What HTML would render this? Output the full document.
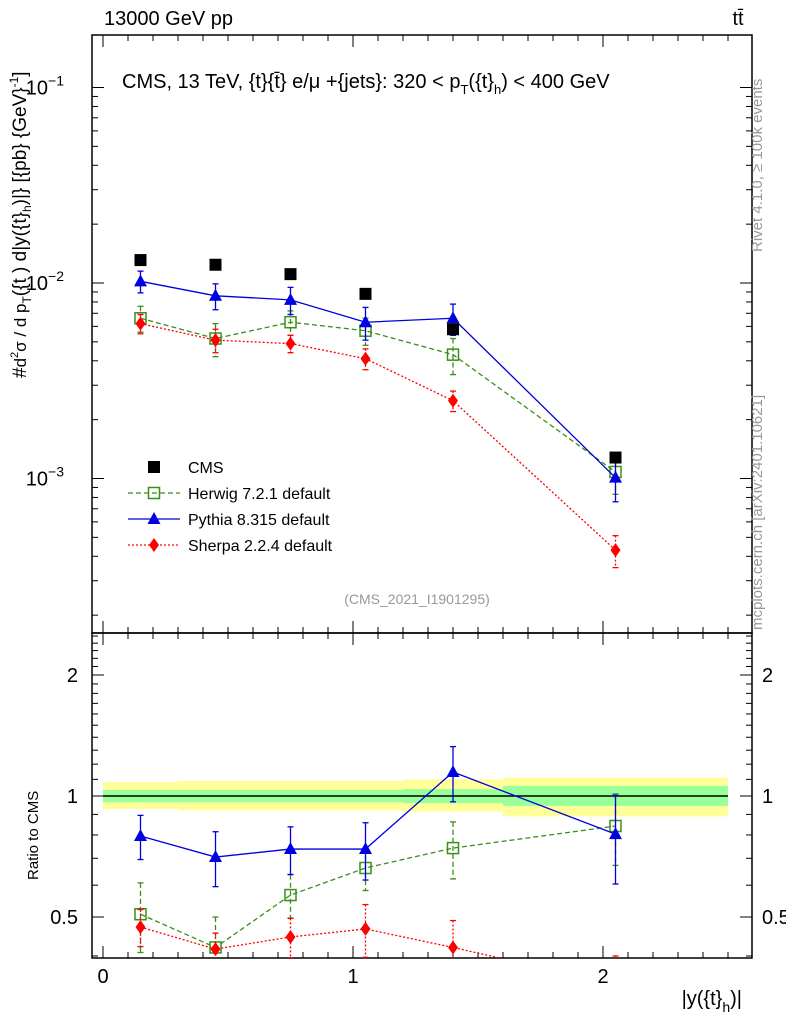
<!DOCTYPE html>
<html><head><meta charset="utf-8"><style>
body{margin:0;background:#fff;}
svg{display:block;font-family:"Liberation Sans",sans-serif;}
</style></head><body>
<svg id="c" width="786" height="1024" xmlns="http://www.w3.org/2000/svg"></svg>
<script>
const xs=[0.15,0.45,0.75,1.05,1.4,2.05];
const cms=[0.0131,0.0124,0.0111,0.0088,0.0058,0.00128];
const cmsErr=[0.0,0.0,0.0,0.0,0.0,0.0];
const herwig=[0.0066,0.0052,0.0063,0.0057,0.0043,0.00108];
const herwigErr=[0.0010,0.0010,0.0009,0.0009,0.0009,0.00025];
const pythia=[0.0102,0.0086,0.0082,0.0063,0.0066,0.00101];
const pythiaErr=[0.0013,0.0013,0.0013,0.0012,0.0012,0.00025];
const sherpa=[0.0062,0.0051,0.0049,0.0041,0.0025,0.00043];
const sherpaErr=[0.0007,0.0007,0.0005,0.0005,0.0003,0.00008];
const rHerwig=[0.508,0.42,0.567,0.662,0.742,0.842];
const rHerwigErr=[0.10,0.08,0.07,0.08,0.12,0.17];
const rPythia=[0.795,0.705,0.738,0.738,1.147,0.804];
const rPythiaErr=[0.10,0.11,0.10,0.12,0.18,0.20];
const rSherpa=[0.472,0.416,0.446,0.467,0.42,0.34];
const rSherpaErr=[0.05,0.04,0.05,0.07,0.07,0.06];
const bandEdges=[0,0.3,0.9,1.2,1.6,2.5];
const yelLo=[0.928,0.92,0.92,0.915,0.89];
const yelHi=[1.083,1.09,1.09,1.10,1.11];
const grnLo=[0.965,0.965,0.965,0.96,0.945];
const grnHi=[1.035,1.035,1.035,1.04,1.06];
const xTicks=[0,1,2];
const yMainTicks=[-3,-2,-1];
const yRatTicks=[0.5,1,2];

const NS="http://www.w3.org/2000/svg";
const svg=document.getElementById('c');
const L=92,R=752,T=35,M=633,B=958;
const X=v=>103+v*250;
const Y=v=>283-(Math.log10(v)+2)*195.5;
const YR=v=>796-Math.log10(v)*402;
function el(tag,attrs,parent){const e=document.createElementNS(NS,tag);for(const k in attrs)e.setAttribute(k,attrs[k]);(parent||svg).appendChild(e);return e;}
function txt(s,x,y,attrs){const t=el('text',Object.assign({x:x,y:y,'font-size':18},attrs||{}));t.textContent=s;return t;}

const defs=el('defs',{});
const c1=el('clipPath',{id:'cm'},defs);el('rect',{x:L,y:T,width:R-L,height:M-T},c1);
const c2=el('clipPath',{id:'cr'},defs);el('rect',{x:L,y:M,width:R-L,height:B-M},c2);

const gBand=el('g',{'clip-path':'url(#cr)'});


for(let i=0;i<bandEdges.length-1;i++){
  el('rect',{x:X(bandEdges[i]),y:YR(yelHi[i]),width:X(bandEdges[i+1])-X(bandEdges[i]),height:YR(yelLo[i])-YR(yelHi[i]),fill:'#ffff99'},gBand);
  el('rect',{x:X(bandEdges[i]),y:YR(grnHi[i]),width:X(bandEdges[i+1])-X(bandEdges[i]),height:YR(grnLo[i])-YR(grnHi[i]),fill:'#99ff99'},gBand);
}
el('line',{x1:X(0),x2:X(2.5),y1:YR(1),y2:YR(1),stroke:'#000','stroke-width':1.5},gBand);

const fm=el('rect',{x:L,y:T,width:R-L,height:M-T,fill:'none',stroke:'#000','stroke-width':1.5});

const fr=el('rect',{x:L,y:M,width:R-L,height:B-M,fill:'none',stroke:'#000','stroke-width':1.5});


for(let v=-0.0;v<=2.6001;v+=0.1){
  const big=Math.abs(v-Math.round(v))<1e-6;const len=big?12:6;const x=X(v);
  if(x<L||x>R)continue;
  for(const [yb,yt] of [[M,T],[B,M]]){
    el('line',{x1:x,x2:x,y1:yb,y2:yb-len,stroke:'#000'});
    el('line',{x1:x,x2:x,y1:yt,y2:yt+len,stroke:'#000'});
  }
}
xTicks.forEach(v=>{const t=txt(String(v),X(v),983,{'text-anchor':'middle','font-size':20});});

for(let d=-4;d<=-1;d++){for(let m=1;m<10;m++){const v=m*Math.pow(10,d);const y=Y(v);if(y<T||y>M)continue;const len=m===1?12:6;
  el('line',{x1:L,x2:L+len,y1:y,y2:y,stroke:'#000'});el('line',{x1:R,x2:R-len,y1:y,y2:y,stroke:'#000'});}}
yMainTicks.forEach(p=>{const y=Y(Math.pow(10,p));const t=el('text',{x:64,y:y+7,'font-size':20,'text-anchor':'end'});
  
  t.innerHTML='10<tspan dy="-9" font-size="14">'+'\u2212'+(-p)+'</tspan>';});
for(let v=0.4;v<=2.6;v+=0.1){const y=YR(v);if(y<M||y>B)continue;
  const big=[0.5,1,2].some(b=>Math.abs(b-v)<1e-6);const len=big?12:6;
  el('line',{x1:L,x2:L+len,y1:y,y2:y,stroke:'#000'});el('line',{x1:R,x2:R-len,y1:y,y2:y,stroke:'#000'});}
yRatTicks.forEach(v=>{const y=YR(v)+7;
  const a=txt(String(v),78,y,{'text-anchor':'end','font-size':20});
  const b=txt(String(v),762,y,{'font-size':20});});

function marker(g,type,x,y,col){
  if(type==='sq')el('rect',{x:x-6,y:y-6,width:12,height:12,fill:'#000'},g);
  if(type==='osq')el('rect',{x:x-5.5,y:y-5.5,width:11,height:11,fill:'none',stroke:col,'stroke-width':1.5},g);
  if(type==='tri')el('path',{d:`M${x} ${y-7}L${x+6.5} ${y+5}L${x-6.5} ${y+5}Z`,fill:col},g);
  if(type==='dia')el('path',{d:`M${x} ${y-7}L${x+5} ${y}L${x} ${y+7}L${x-5} ${y}Z`,fill:col},g);
}
function series(name,vals,errs,yf,col,dash,type,clip,line){
  const g=el('g',{'clip-path':clip});
  
  if(line)el('polyline',{points:xs.map((x,i)=>X(x)+','+yf(vals[i])).join(' '),fill:'none',stroke:col,'stroke-width':1.3,'stroke-dasharray':dash},g);
  xs.forEach((x,i)=>{
    if(errs[i]>0){const y1=yf(vals[i]+errs[i]),y2=yf(Math.max(vals[i]-errs[i],1e-9));
      el('line',{x1:X(x),x2:X(x),y1:y1,y2:y2,stroke:col,'stroke-width':1.3,'stroke-dasharray':dash},g);
      el('line',{x1:X(x)-3,x2:X(x)+3,y1:y1,y2:y1,stroke:col,'stroke-width':1.3},g);
      el('line',{x1:X(x)-3,x2:X(x)+3,y1:y2,y2:y2,stroke:col,'stroke-width':1.3},g);}
    marker(g,type,X(x),yf(vals[i]),col);
  });
}
const GR='#3a8f1a',BL='#0000e0',RD='#ff0000';
series('herwig-series',herwig,herwigErr,Y,GR,'5,3','osq','url(#cm)',true);
series('sherpa-series',sherpa,sherpaErr,Y,RD,'2,2','dia','url(#cm)',true);
series('pythia-series',pythia,pythiaErr,Y,BL,'','tri','url(#cm)',true);
series('cms-data',cms,cmsErr,Y,'#000','','sq','url(#cm)',false);
series('herwig-ratio',rHerwig,rHerwigErr,YR,GR,'5,3','osq','url(#cr)',true);
series('sherpa-ratio',rSherpa,rSherpaErr,YR,RD,'2,2','dia','url(#cr)',true);
series('pythia-ratio',rPythia,rPythiaErr,YR,BL,'','tri','url(#cr)',true);

const leg=[['CMS','#000','','sq'],['Herwig 7.2.1 default',GR,'5,3','osq'],['Pythia 8.315 default',BL,'','tri'],['Sherpa 2.2.4 default',RD,'2,2','dia']];
leg.forEach((l,i)=>{const g=el('g',{});
  const y=467+i*26;
  if(i>0)el('line',{x1:128,x2:180,y1:y,y2:y,stroke:l[1],'stroke-width':1.3,'stroke-dasharray':l[2]},g);
  marker(g,l[3],154,y,l[1]);
  const t=txt(l[0],188,y+6,{'font-size':16});g.appendChild(t);});

const t1=txt('13000 GeV pp',104,25,{'font-size':20});
const t2=txt('tt\u0304',738,25,{'font-size':20,'text-anchor':'middle'});
const t3=el('text',{x:122,y:88,'font-size':20});
t3.innerHTML='CMS, 13 TeV, {t}{t\u0304} e/\u03bc +{jets}: 320 &lt;  p<tspan dy="6" font-size="13">T</tspan><tspan dy="-6">({t}</tspan><tspan dy="6" font-size="13">h</tspan><tspan dy="-6">) &lt; 400 GeV</tspan>';
const t4=txt('(CMS_2021_I1901295)',417,604,{'font-size':14,fill:'#999','text-anchor':'middle'});
const t5=txt('Rivet 4.1.0, \u2265 100k events',762,252,{'font-size':15,fill:'#999',transform:'rotate(-90 762 252)'});
const t6=txt('mcplots.cern.ch [arXiv:2401.10621]',762,630,{'font-size':15,fill:'#999',transform:'rotate(-90 762 630)'});
const t7=txt('Ratio to CMS',38,880,{'font-size':15,transform:'rotate(-90 38 880)'});
const t8=el('text',{x:742,y:1005,'font-size':20,'text-anchor':'end'});
t8.innerHTML='|y({t}<tspan dy="7" font-size="14">h</tspan><tspan dy="-7">)|</tspan>';
const t9=el('text',{x:26,y:378,'font-size':19,transform:'rotate(-90 26 378)'});
t9.innerHTML='#<tspan font-size="17">d</tspan><tspan dy="-8" font-size="11">2</tspan><tspan dy="8" font-size="17">\u03c3 / d p</tspan><tspan dy="5" font-size="12">T</tspan><tspan dy="-5">({t</tspan>  ) d|y({t}<tspan dy="5" font-size="12">h</tspan><tspan dy="-5">)|} [{pb} {GeV}</tspan><tspan dy="-8" font-size="12">-1</tspan><tspan dy="8">]</tspan>';
</script>
</body></html>
